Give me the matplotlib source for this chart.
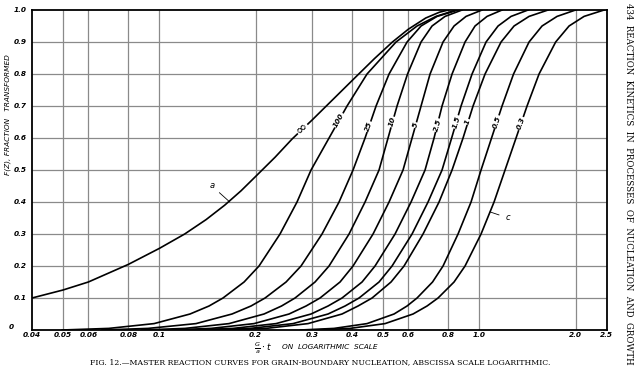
import matplotlib
matplotlib.use("Agg")
import matplotlib.pyplot as plt

F_LEVELS = [0.0, 0.005, 0.02, 0.05, 0.075, 0.1, 0.15, 0.2, 0.3, 0.4, 0.5,
            0.6, 0.7, 0.8, 0.9, 0.95, 0.98, 1.0]

# curve a (infinity) read as (x, F) pairs
inf_x = [0.04, 0.05, 0.06, 0.08, 0.1, 0.12, 0.14, 0.16, 0.18, 0.2, 0.23, 0.26, 0.3, 0.35,
         0.415, 0.47, 0.535, 0.6, 0.68, 0.75, 0.8]
inf_f = [0.10, 0.125, 0.15, 0.205, 0.255, 0.30, 0.345, 0.39, 0.435, 0.48, 0.54, 0.597, 0.656, 0.722,
         0.795, 0.848, 0.9, 0.94, 0.975, 0.993, 1.0]

curve_names = ["100", "25", "10", "5", "2.5", "1.5", "1", "0.5", "0.3"]
x_100 = [0.0497, 0.0695, 0.0963, 0.1247, 0.1430, 0.1581, 0.1840, 0.2049, 0.2383, 0.2693, 0.2979,
         0.3391, 0.3860, 0.4457, 0.5491, 0.6387, 0.7323, 0.8457]
x_25 = [0.0662, 0.0922, 0.1302, 0.1687, 0.1934, 0.2140, 0.2489, 0.2772, 0.3224, 0.3644, 0.4030,
        0.4394, 0.4756, 0.5222, 0.5944, 0.6574, 0.7376, 0.8579]
x_10 = [0.0880, 0.1203, 0.1651, 0.2124, 0.2409, 0.2655, 0.3066, 0.3391, 0.3916, 0.4394, 0.4859,
        0.5184, 0.5531, 0.5965, 0.6574, 0.7115, 0.7813, 0.8830]
x_5 = [0.1057, 0.1451, 0.1977, 0.2543, 0.2874, 0.3178, 0.3670, 0.4030, 0.4654, 0.5222, 0.5775,
       0.6162, 0.6574, 0.7014, 0.7701, 0.8336, 0.9087, 1.0196]
x_2_5 = [0.1238, 0.1699, 0.2316, 0.2979, 0.3367, 0.3723, 0.4300, 0.4721, 0.5452, 0.6117, 0.6766,
         0.7219, 0.7646, 0.8217, 0.9022, 0.9695, 1.0569, 1.1774]
x_1_5 = [0.1399, 0.1921, 0.2617, 0.3367, 0.3805, 0.4208, 0.4859, 0.5336, 0.6162, 0.6913, 0.7646,
         0.8193, 0.8766, 0.9488, 1.0494, 1.1441, 1.2562, 1.4196]
x_1 = [0.1593, 0.2155, 0.2915, 0.3723, 0.4178, 0.4621, 0.5297, 0.5817, 0.6669, 0.7483, 0.8217,
       0.8893, 0.9557, 1.0419, 1.1690, 1.2836, 1.4299, 1.6394]
x_0_5 = [0.2762, 0.3515, 0.4457, 0.5413, 0.5944, 0.6387, 0.7141, 0.7701, 0.8579, 0.9420, 1.0123,
         1.0918, 1.1774, 1.2790, 1.4299, 1.5701, 1.7491, 1.9982]
x_0_3 = [0.3066, 0.3944, 0.5074, 0.6206, 0.6864, 0.7429, 0.8336, 0.9022, 1.0123, 1.1116, 1.2031,
         1.3022, 1.4094, 1.5366, 1.7316, 1.9069, 2.1242, 2.4530]
curves = [x_100, x_25, x_10, x_5, x_2_5, x_1_5, x_1, x_0_5, x_0_3]

# inline label spots on each curve (x, F, rotation)
label_pos = [(0.364, 0.655, 61), (0.452, 0.635, 70), (0.535, 0.65, 73), (0.632, 0.64, 73),
             (0.739, 0.64, 74), (0.848, 0.65, 73), (0.922, 0.65, 72), (1.134, 0.65, 71), (1.35, 0.645, 70)]

x_ticks = [0.04, 0.05, 0.06, 0.08, 0.1, 0.2, 0.3, 0.4, 0.5, 0.6, 0.8, 1.0, 2.0, 2.5]
x_tick_labels = ["0.04", "0.05", "0.06", "0.08", "0.1", "0.2", "0.3", "0.4", "0.5", "0.6", "0.8", "1.0", "2.0", "2.5"]
y_ticks = [0, 0.1, 0.2, 0.3, 0.4, 0.5, 0.6, 0.7, 0.8, 0.9, 1.0]
y_tick_labels = ["", "0.1", "0.2", "0.3", "0.4", "0.5", "0.6", "0.7", "0.8", "0.9", "1.0"]

fig = plt.figure(figsize=(6.36, 3.70), dpi=100)
ax = fig.add_axes([32 / 636, 40 / 370, (606.7 - 32) / 636, 320 / 370])
ax.set_xscale("log")
ax.set_xlim(0.04, 2.5)
ax.set_ylim(0, 1.0)

for v in x_ticks[1:-1]:
    ax.axvline(v, color="#8a8a8a", lw=0.9, zorder=1)
for v in y_ticks[1:-1]:
    ax.axhline(v, color="#8a8a8a", lw=0.9, zorder=1)

ax.plot(inf_x, inf_f, color="black", lw=1.2, zorder=3, solid_joinstyle="round")
for xs in curves:
    ax.plot(xs, F_LEVELS, color="black", lw=1.2, zorder=3, solid_joinstyle="round")

tick_font = dict(fontsize=5.3, fontstyle="italic", fontweight="bold")
ax.set_xticks(x_ticks)
ax.set_xticklabels(x_tick_labels, **tick_font)
ax.minorticks_off()
ax.set_yticks(y_ticks)
ax.set_yticklabels(y_tick_labels, **tick_font)
ax.tick_params(axis="x", length=0, pad=1.5)
ax.tick_params(axis="y", length=0, pad=4)
ax.text(-0.032, 0.01, "0", transform=ax.transAxes, ha="right", va="center", **tick_font)
for s in ax.spines.values():
    s.set_linewidth(1.3)

# curve labels, set into the curves
box = dict(facecolor="white", edgecolor="none", pad=0.3)
ax.text(0.278, 0.632, "\u221e", rotation=42, fontsize=10.5, ha="center", va="center", bbox=box, zorder=4)
for name, (lx, ly, rot) in zip(curve_names, label_pos):
    ax.text(lx, ly, name, rotation=rot, fontsize=5.3, fontstyle="italic",
            fontweight="bold", ha="center", va="center", bbox=box, zorder=4)
ax.annotate("a", xy=(0.166, 0.40), xytext=(0.146, 0.45), fontsize=6, fontstyle="italic",
            ha="center", va="center", arrowprops=dict(arrowstyle="-", lw=0.6, shrinkA=2, shrinkB=0))
ax.annotate("c", xy=(1.08, 0.369), xytext=(1.23, 0.35), fontsize=6, fontstyle="italic",
            ha="center", va="center", arrowprops=dict(arrowstyle="-", lw=0.6, shrinkA=3, shrinkB=0))

fig.text(8 / 636, 1 - 115 / 370, "F(Z), FRACTION   TRANSFORMED", rotation=90, fontsize=5.3,
         fontstyle="italic", ha="center", va="center")
fig.text(263 / 636, 1 - 348 / 370, r"$\frac{G}{a}\cdot t$", fontsize=6.5, ha="center", va="center")
fig.text(330 / 636, 1 - 347 / 370, "ON  LOGARITHMIC  SCALE", fontsize=5.3,
         fontstyle="italic", ha="center", va="center")
fig.text(320 / 636, 1 - 362 / 370,
         "FIG. 12.\u2014MASTER REACTION CURVES FOR GRAIN-BOUNDARY NUCLEATION, ABSCISSA SCALE LOGARITHMIC.",
         family="DejaVu Serif", fontsize=5.6, ha="center", va="center")
fig.text(628 / 636, 1 - 184 / 370,
         "434  REACTION  KINETICS  IN  PROCESSES  OF  NUCLEATION  AND  GROWTH",
         family="DejaVu Serif", fontsize=6.2, rotation=-90, ha="center", va="center")

fig.savefig("out.png", dpi=100)
